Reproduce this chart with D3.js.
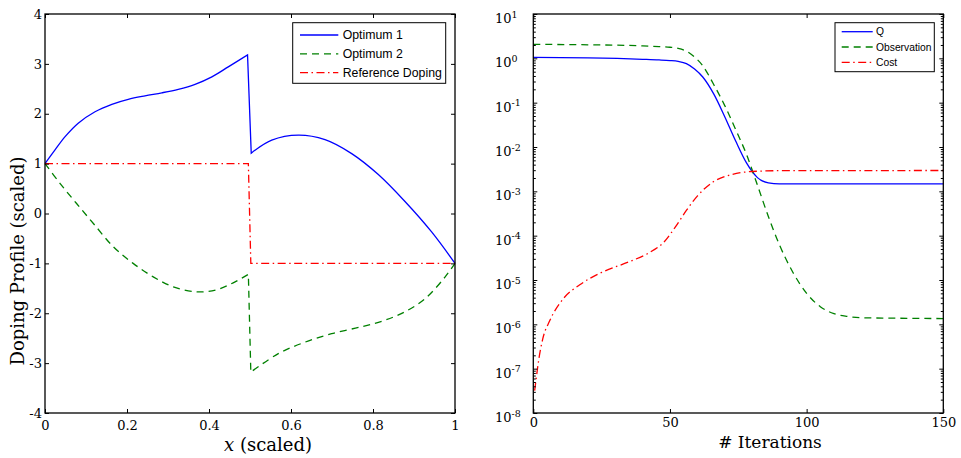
<!DOCTYPE html>
<html>
<head>
<meta charset="utf-8">
<script src="https://cdn.jsdelivr.net/npm/d3@7"></script>
<style>
  html, body { margin: 0; padding: 0; background: #fff; }
  svg { display: block; }
  .tick-label { font-family: 'DejaVu Serif', serif; font-size: 13px; fill: #000; }
  .axis-title { font-family: 'DejaVu Serif', serif; font-size: 18px; fill: #000; }
  .legend-text { font-family: 'Liberation Sans', Arial, sans-serif; fill: #000; }
</style>
</head>
<body>
<div id="chart"></div>
<script>
const W = 961, H = 458;

// --- left panel : doping profiles (x scaled, value scaled) ---
const profileXTicks = [0, 0.2, 0.4, 0.6, 0.8, 1];
const profileYTicks = [-4, -3, -2, -1, 0, 1, 2, 3, 4];

const optimum1Left = [[0, 1], [0.024, 1.27], [0.049, 1.54], [0.081, 1.81], [0.122, 2.04], [0.163, 2.19],
  [0.203, 2.29], [0.244, 2.36], [0.285, 2.42], [0.325, 2.49], [0.366, 2.59], [0.407, 2.74], [0.447, 2.94], [0.494, 3.18]];
const optimum1Right = [[0.503, 1.21], [0.553, 1.47], [0.618, 1.57], [0.683, 1.48], [0.748, 1.20], [0.813, 0.78],
  [0.878, 0.24], [0.943, -0.37], [1, -1]];

const optimum2Left = [[0, 1], [0.037, 0.60], [0.077, 0.20], [0.118, -0.20], [0.167, -0.67], [0.215, -1.0],
  [0.264, -1.27], [0.313, -1.47], [0.370, -1.57], [0.418, -1.53], [0.459, -1.39], [0.496, -1.22]];
const optimum2Right = [[0.502, -3.18], [0.569, -2.81], [0.634, -2.58], [0.699, -2.41], [0.772, -2.27],
  [0.829, -2.14], [0.878, -1.97], [0.927, -1.71], [0.976, -1.27], [1, -1]];

const referenceDoping = [[0, 1], [0.496, 1], [0.502, -1], [1, -1]];

// --- right panel : convergence history (log scale) ---
const iterTicks = [0, 50, 100, 150];
const decadeTicks = [1e-8, 1e-7, 1e-6, 1e-5, 1e-4, 1e-3, 1e-2, 1e-1, 1e0, 1e1];

const qHistory = [[0, 1.05], [20, 1.02], [40, 0.95], [46, 0.92], [50, 0.89], [53, 0.85], [56, 0.76],
  [59, 0.575], [62, 0.38], [66, 0.158], [70, 0.049], [74, 0.0138], [78, 0.00437], [82, 0.00204],
  [86, 0.00155], [90, 0.00148], [100, 0.00148], [150, 0.00148]];

const observationHistory = [[0, 2.07], [20, 2.02], [40, 1.91], [46, 1.84], [50, 1.78], [53, 1.68],
  [56, 1.45], [59, 1.07], [62, 0.68], [66, 0.257], [70, 0.087], [74, 0.025], [78, 0.0068], [82, 0.00138],
  [86, 2.7e-4], [90, 6.3e-5], [95, 1.48e-5], [100, 5.0e-6], [105, 2.5e-6], [110, 1.74e-6], [115, 1.51e-6],
  [120, 1.41e-6], [130, 1.38e-6], [150, 1.35e-6]];

const costHistory = [[0.5, 3.2e-8], [1, 5.6e-8], [2, 1.6e-7], [3.5, 4.8e-7], [6, 1.2e-6], [11, 3.8e-6],
  [17, 7.8e-6], [25, 1.48e-5], [35, 2.57e-5], [42, 4.0e-5], [48, 7.4e-5], [52, 1.58e-4], [56, 3.7e-4],
  [60, 7.8e-4], [66, 1.66e-3], [72, 2.34e-3], [80, 2.8e-3], [90, 2.92e-3], [150, 2.95e-3]];

const STYLE = {
  solid:   { color: '#0000ff', dash: null },
  dashed:  { color: '#008000', dash: '7,5' },
  dashdot: { color: '#ff0000', dash: '8,3.5,1.5,3.5' }
};

const svg = d3.select('#chart').append('svg')
  .attr('width', W)
  .attr('height', H)
  .attr('viewBox', `0 0 ${W} ${H}`);

svg.append('rect').attr('width', W).attr('height', H).attr('fill', '#fff');

function styleAxis(g) {
  g.select('.domain').remove();
  g.selectAll('line').attr('stroke', '#000').attr('stroke-width', 1);
  g.selectAll('text').attr('class', 'tick-label');
}

function addAxis(axis, tx, ty) {
  return svg.append('g')
    .attr('transform', `translate(${tx},${ty})`)
    .call(axis)
    .call(styleAxis);
}

// joins the smooth pieces with a straight segment at the jump
function pathThrough(line, pieces) {
  return pieces.map((p, i) => (i === 0 ? line(p) : line(p).replace(/^M/, 'L'))).join('');
}

function drawSeries(d, st) {
  svg.append('path')
    .attr('d', d)
    .attr('fill', 'none')
    .attr('stroke', st.color)
    .attr('stroke-width', 1.3)
    .attr('stroke-dasharray', st.dash);
}

function drawLegend(box, entries, font) {
  svg.append('rect')
    .attr('x', box.x).attr('y', box.y)
    .attr('width', box.w).attr('height', box.h)
    .attr('fill', '#fff').attr('stroke', '#000').attr('stroke-width', 1);
  entries.forEach((e, i) => {
    const yy = box.rowY + i * box.step;
    svg.append('line')
      .attr('x1', box.lx1).attr('x2', box.lx2)
      .attr('y1', yy).attr('y2', yy)
      .attr('stroke', e.style.color)
      .attr('stroke-width', 1.3)
      .attr('stroke-dasharray', e.style.dash);
    svg.append('text')
      .attr('class', 'legend-text')
      .attr('x', box.tx).attr('y', yy)
      .attr('dy', '0.36em')
      .style('font-size', font)
      .text(e.label);
  });
}

// ================= left panel =================
const L = { x0: 45, x1: 455, y0: 14, y1: 413 };
const xL = d3.scaleLinear().domain([0, 1]).range([L.x0, L.x1]);
const yL = d3.scaleLinear().domain([-4, 4]).range([L.y1, L.y0]);

const lineL = d3.line()
  .x((d) => xL(d[0]))
  .y((d) => yL(d[1]))
  .curve(d3.curveCatmullRom.alpha(0.5));
const stepL = d3.line().x((d) => xL(d[0])).y((d) => yL(d[1]));

drawSeries(pathThrough(lineL, [optimum1Left, optimum1Right]), STYLE.solid);
drawSeries(pathThrough(lineL, [optimum2Left, optimum2Right]), STYLE.dashed);
drawSeries(stepL(referenceDoping), STYLE.dashdot);

addAxis(d3.axisBottom(xL).tickValues(profileXTicks).tickSize(-4).tickPadding(8).tickFormat(String), 0, L.y1);
addAxis(d3.axisTop(xL).tickValues(profileXTicks).tickSize(-4).tickFormat(''), 0, L.y0);
addAxis(d3.axisLeft(yL).tickValues(profileYTicks).tickSize(-4).tickPadding(3).tickFormat(String), L.x0, 0);
addAxis(d3.axisRight(yL).tickValues(profileYTicks).tickSize(-4).tickFormat(''), L.x1, 0);

svg.append('rect')
  .attr('x', L.x0).attr('y', L.y0)
  .attr('width', L.x1 - L.x0).attr('height', L.y1 - L.y0)
  .attr('fill', 'none').attr('stroke', '#000').attr('stroke-width', 1.3);

svg.append('text')
  .attr('class', 'axis-title')
  .attr('transform', 'translate(24,261) rotate(-90)')
  .attr('text-anchor', 'middle')
  .text('Doping Profile (scaled)');

const xTitle = svg.append('text')
  .attr('class', 'axis-title')
  .attr('x', 268).attr('y', 451)
  .attr('text-anchor', 'middle');
xTitle.append('tspan').attr('font-style', 'italic').text('x');
xTitle.append('tspan').text(' (scaled)');

drawLegend(
  { x: 292.7, y: 22.7, w: 153, h: 60.6, lx1: 300, lx2: 338.3, tx: 342.7, rowY: 35, step: 18.8 },
  [
    { label: 'Optimum 1', style: STYLE.solid },
    { label: 'Optimum 2', style: STYLE.dashed },
    { label: 'Reference Doping', style: STYLE.dashdot }
  ],
  '12.3px'
);

// ================= right panel =================
const R = { x0: 533.3, x1: 943.3, y0: 14, y1: 413 };
const xR = d3.scaleLinear().domain([0, 150]).range([R.x0, R.x1]);
const yR = d3.scaleLog().domain([1e-8, 1e1]).range([R.y1, R.y0]);

const lineR = d3.line()
  .x((d) => xR(d[0]))
  .y((d) => yR(d[1]))
  .curve(d3.curveMonotoneX);

drawSeries(lineR(qHistory), STYLE.solid);
drawSeries(lineR(observationHistory), STYLE.dashed);
drawSeries(lineR(costHistory), STYLE.dashdot);

const minorTicks = yR.ticks().filter((v) => !decadeTicks.some((d) => Math.abs(v / d - 1) < 1e-9));

addAxis(d3.axisBottom(xR).tickValues(iterTicks).tickSize(-4).tickPadding(5).tickFormat(String), 0, R.y1);
addAxis(d3.axisTop(xR).tickValues(iterTicks).tickSize(-4).tickFormat(''), 0, R.y0);
addAxis(d3.axisLeft(yR).tickValues(decadeTicks).tickSize(-4).tickFormat(''), R.x0, 0);
addAxis(d3.axisRight(yR).tickValues(decadeTicks).tickSize(-4).tickFormat(''), R.x1, 0);
addAxis(d3.axisLeft(yR).tickValues(minorTicks).tickSize(-2.5).tickFormat(''), R.x0, 0);
addAxis(d3.axisRight(yR).tickValues(minorTicks).tickSize(-2.5).tickFormat(''), R.x1, 0);

svg.append('rect')
  .attr('x', R.x0).attr('y', R.y0)
  .attr('width', R.x1 - R.x0).attr('height', R.y1 - R.y0)
  .attr('fill', 'none').attr('stroke', '#000').attr('stroke-width', 1.3);

// 10^k labels, left aligned as in the original
decadeTicks.forEach((v) => {
  const k = Math.round(Math.log10(v));
  const t = svg.append('text')
    .attr('class', 'tick-label')
    .attr('x', 495)
    .attr('y', yR(v) + 9);
  t.append('tspan').text('10');
  t.append('tspan')
    .attr('dy', -5.5)
    .style('font-size', '9.5px')
    .text(String(k));
});

svg.append('text')
  .attr('class', 'axis-title')
  .style('font-size', '17px')
  .attr('x', 770).attr('y', 448)
  .attr('text-anchor', 'middle')
  .text('# Iterations');

drawLegend(
  { x: 835, y: 22.7, w: 99.3, h: 49, lx1: 841.7, lx2: 872.7, tx: 876, rowY: 31.7, step: 15.3 },
  [
    { label: 'Q', style: STYLE.solid },
    { label: 'Observation', style: STYLE.dashed },
    { label: 'Cost', style: STYLE.dashdot }
  ],
  '10.3px'
);
</script>
</body>
</html>
